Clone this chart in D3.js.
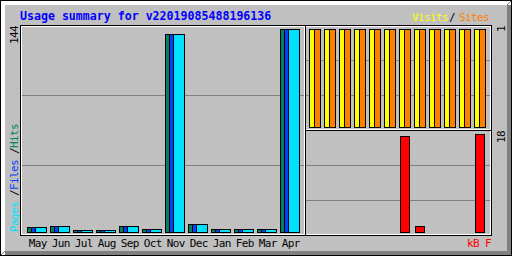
<!DOCTYPE html>
<html><head><meta charset="utf-8">
<script src="https://cdn.jsdelivr.net/npm/d3@7/dist/d3.min.js"></script>
<style>
html,body{margin:0;padding:0;background:#c0c0c0;overflow:hidden}
svg{display:block}
text{font-family:"DejaVu Sans Mono","Liberation Mono",monospace;font-size:11px;letter-spacing:-0.62px}
</style></head><body>
<svg id="c" width="512" height="256" shape-rendering="crispEdges"></svg>
<script>
// ---- data ----
const months = ["May","Jun","Jul","Aug","Sep","Oct","Nov","Dec","Jan","Feb","Mar","Apr"];
const hits   = [3,4,1,1,4,2,140,5,2,2,2,144];
const files  = [3,4,1,1,4,2,140,5,2,2,2,144];
const pages  = [3,4,1,1,4,2,140,5,2,2,2,144];
const visits = [1,1,1,1,1,1,1,1,1,1,1,1];
const sites  = [1,1,1,1,1,1,1,1,1,1,1,1];
const kbytes = [0,0,0,0,0,0,17.5,1.1,0,0,0,18];
const titleText = "Usage summary for v22019085488196136";
const hitsMaxLabel = "144";
const visitsMaxLabel = "1";
const kbMaxLabel = "18";

// ---- colours ----
const C = {grey:"#c0c0c0", dk:"#808080", black:"#000", white:"#fff",
  hit:"#00805c", file:"#0040ff", page:"#00e0ff", visit:"#ffff00", site:"#ff8000", kb:"#ff0000", title:"#0000ff"};

const svg = d3.select("#c");
svg.append("rect").attr("width",512).attr("height",256).attr("fill",C.grey);

function hline(x1,x2,y,c){svg.append("rect").attr("x",x1).attr("y",y).attr("width",x2-x1+1).attr("height",1).attr("fill",c);}
function vline(x,y1,y2,c){svg.append("rect").attr("x",x).attr("y",y1).attr("width",1).attr("height",y2-y1+1).attr("fill",c);}
function box(x1,y1,x2,y2,c){hline(x1,x2,y1,c);hline(x1,x2,y2,c);vline(x1,y1,y2,c);vline(x2,y1,y2,c);}

// outer shadow border
for(let i=0;i<5;i++){
  hline(i,511,i,C.white);
  vline(i,i,255,C.white);
  hline(i,511-i,255-i,C.dk);
  vline(511-i,i,255-i,C.dk);
}
box(0,0,511,255,C.black);

// inner frame
box(20,25,491,235,C.black);
box(21,26,490,234,C.white);

// scales
const yMain = d3.scaleLinear().domain([0,+hitsMaxLabel]).range([232,29]);
const yVis  = d3.scaleLinear().domain([0,+visitsMaxLabel]).range([127,29]);
const yKb   = d3.scaleLinear().domain([0,+kbMaxLabel]).range([232,134]);

// grid lines
[95,165].forEach(y=>hline(22,303,y,C.dk));
[60,95,165,200].forEach(y=>hline(306,489,y,C.dk));

// section lines
vline(304,26,234,C.white);
vline(305,26,234,C.black);
hline(306,490,129,C.white);
hline(306,490,130,C.black);

// main bars
const xMain = d3.scalePoint().domain(months).range([25,281]).round(true);
function bar(x1,x2,y1,yb,fill){
  svg.append("rect").attr("x",x1+0.5).attr("y",y1+0.5).attr("width",x2-x1).attr("height",yb-y1)
    .attr("fill",fill).attr("stroke","#000").attr("stroke-width",1).attr("shape-rendering","crispEdges");
}
months.forEach((m,i)=>{
  const x0 = xMain(m);
  [[hits,0,C.hit],[files,4,C.file],[pages,8,C.page]].forEach(([arr,off,col])=>{
    if(arr[i]<=0) return;
    bar(x0+off, x0+off+11, Math.floor(yMain(arr[i])), 232, col);
  });
});

// visits / sites / kB
const xRight = d3.scaleLinear().domain([0,11]).range([309,474]);
months.forEach((m,i)=>{
  const x0 = xRight(i);
  if(visits[i]>0) bar(x0, x0+8, Math.floor(yVis(visits[i])), 127, C.visit);
  if(sites[i]>0)  bar(x0+5, x0+11, Math.floor(yVis(sites[i])), 127, C.site);
  if(kbytes[i]>0) bar(x0+1, x0+10, Math.floor(yKb(kbytes[i])), 232, C.kb);
});

// texts
svg.append("text").attr("x",20).attr("y",19.5).attr("fill",C.title)
  .style("font-weight","bold").style("font-size","11.6px").style("letter-spacing","0px").text(titleText);

months.forEach(m=>{
  svg.append("text").attr("x",xMain(m)+10.8).attr("y",247).attr("text-anchor","middle").attr("fill","#000").text(m);
});
svg.append("text").attr("x",491).attr("y",247).attr("text-anchor","end").attr("fill",C.kb).text("kB F");

// top-right legend
svg.append("text").attr("x",412).attr("y",21).attr("fill",C.visit).text("Visits");
svg.append("text").attr("x",449).attr("y",21).attr("fill","#000").text("/");
svg.append("text").attr("x",459).attr("y",21).attr("fill",C.site).text("Sites");

// rotated labels
function up(x,y,txt,col,anchor){
  svg.append("text").attr("transform",`translate(${x},${y}) rotate(-90)`).attr("text-anchor",anchor||"start")
    .attr("fill",col).text(txt);
}
up(18,26,hitsMaxLabel,"#000","end");
up(505,26,visitsMaxLabel,"#000","end");
up(505,131,kbMaxLabel,"#000","end");
up(18,232,"Pages",C.page);
up(18,196,"/","#000");
up(18,190,"Files",C.file);
up(18,154,"/","#000");
up(18,148,"Hits",C.hit);
</script></body></html>
